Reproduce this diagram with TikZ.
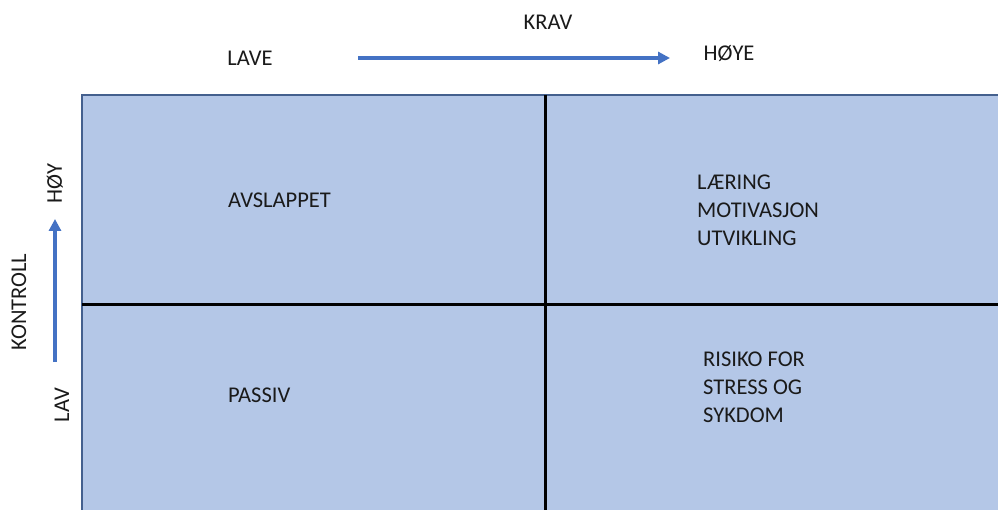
\documentclass[tikz,border=0pt]{standalone}
\usepackage{fontspec}
\setmainfont{Carlito}
\usetikzlibrary{arrows.meta}
\definecolor{boxfill}{HTML}{B4C7E7}
\definecolor{boxedge}{HTML}{44608E}
\definecolor{arrowblue}{HTML}{4472C4}
\definecolor{txt}{HTML}{1A1A1A}
\begin{document}
\begin{tikzpicture}[x=1pt,y=-1pt,
  lbl/.style={font=\fontsize{22.5}{28}\selectfont, text=txt, inner sep=0pt},
  qlbl/.style={font=\fontsize{22.5}{28}\selectfont, text=txt, inner sep=0pt, anchor=west, align=left},
  axisarrow/.style={draw=arrowblue, line width=3.5pt, -{Triangle[length=12pt,width=12pt]}},
  divider/.style={draw=black, line width=3pt}]
\useasboundingbox (0,0) rectangle (998,510);
\fill[white] (0,0) rectangle (998,510);
% main box
\draw[fill=boxfill, draw=boxedge, line width=1.5pt] (82,95) rectangle (1000,512);
\coordinate (vt) at (545,95);
\coordinate (vb) at (545,510);
\coordinate (hl) at (82,305);
\coordinate (hr) at (998,305);
\draw[divider] (vt) -- (vb);
\draw[divider] (hl) -- (hr);
% top axis
\node[lbl] (krav) at (548,22) {KRAV};
\node[lbl] (lave) at (250,58) {LAVE};
\node[lbl] (hoye) at (729,54) {HØYE};
\coordinate (ta) at (358,58);
\coordinate (tb) at (670,58);
\draw[axisarrow] (ta) -- (tb);
% left axis
\node[lbl, rotate=90] (kontroll) at (19,302) {KONTROLL};
\node[lbl, rotate=90] (hoy) at (55,184) {HØY};
\node[lbl, rotate=90] (lav) at (62,405) {LAV};
\coordinate (la) at (55,362);
\coordinate (lb) at (55,219);
\draw[axisarrow] (la) -- (lb);
% quadrants
\node[qlbl] (avs) at (228,200) {AVSLAPPET};
\node[qlbl] (pas) at (228,395) {PASSIV};
\node[qlbl] (laer) at (697,210) {LÆRING\\MOTIVASJON\\UTVIKLING};
\node[qlbl] (ris) at (703,387) {RISIKO FOR\\STRESS OG\\SYKDOM};
\end{tikzpicture}
\end{document}
